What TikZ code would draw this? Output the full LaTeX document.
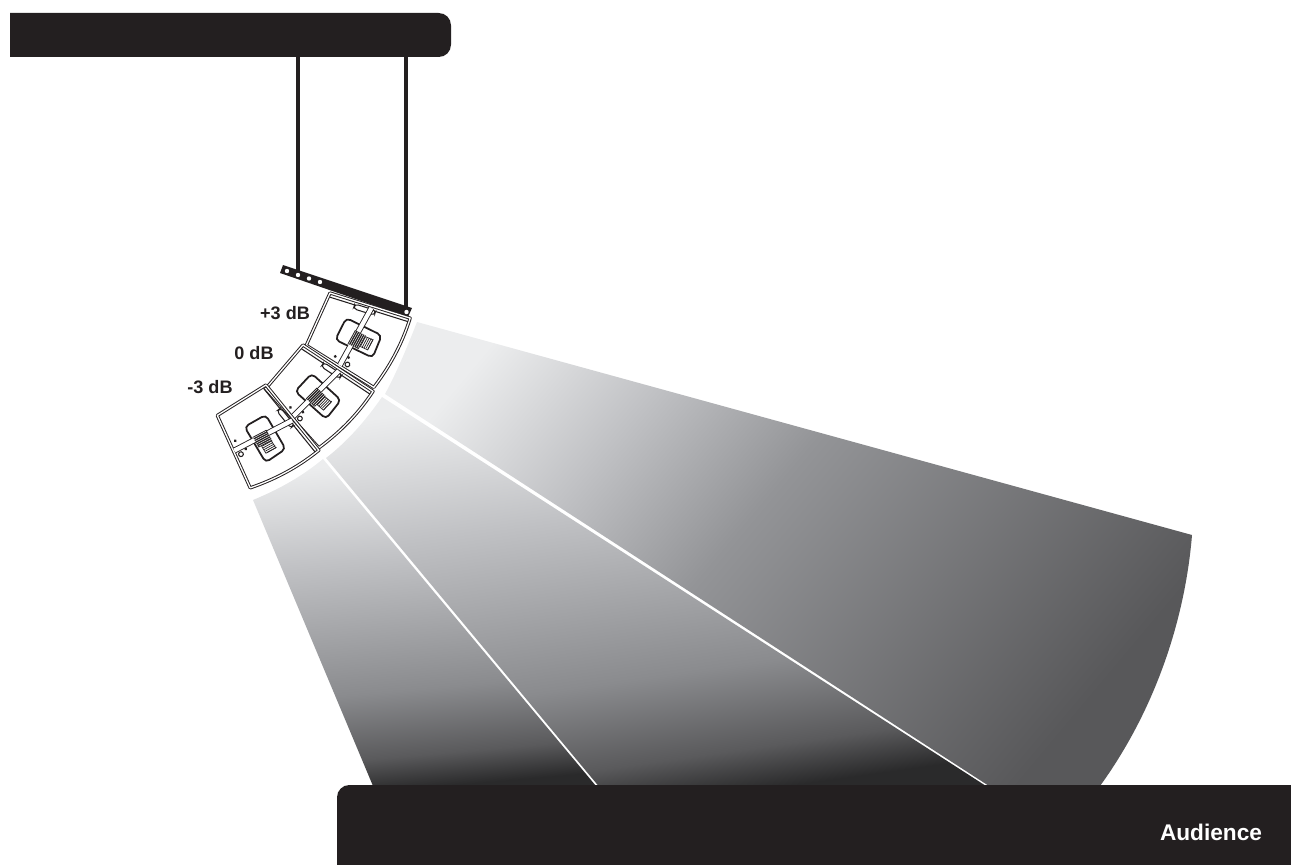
\documentclass[tikz,border=0pt]{standalone}
\usepackage{fontspec}
\setmainfont{Liberation Sans}
\definecolor{barblack}{HTML}{231F20}
\definecolor{fanA}{HTML}{ECEDEE}
\definecolor{fanB}{HTML}{C0C1C4}
\definecolor{fanC}{HTML}{939497}
\definecolor{fanD}{HTML}{58585A}
\definecolor{fanE}{HTML}{8A8B8E}
\definecolor{fanF}{HTML}{5A5A5C}
\definecolor{fanG}{HTML}{2A2A2B}
% gradients of the three fans, light at the array and dark at the audience
\pgfdeclareverticalshading{fanone}{100bp}{color(0bp)=(fanD);color(25bp)=(fanD);color(54bp)=(fanC);color(66bp)=(fanB);color(78bp)=(fanA);color(100bp)=(fanA)}
\pgfdeclareverticalshading{fantwo}{100bp}{color(0bp)=(fanG);color(25bp)=(fanG);color(30bp)=(fanF);color(40bp)=(fanE);color(60bp)=(fanB);color(75bp)=(fanA);color(100bp)=(fanA)}
\tikzset{
  labeltext/.style={font=\bfseries\fontsize{10.3}{12}\selectfont, text=barblack, inner sep=0pt},
  boxline/.style={draw=barblack, line width=0.55pt, double=white, double distance=0.75pt, line join=round},
  thinline/.style={draw=barblack, line width=0.6pt},
  rod/.style={draw=barblack, line width=1.8pt},
}
% one cabinet: x, y of its back corner, then its rotation
\newcommand{\spkbox}[3]{
  \begin{scope}[shift={(#1,#2)}, rotate=#3]
    \draw[boxline] (0,0) -- (84,0) .. controls (84,30) and (78,55) .. (70,77) -- (-7,57) -- cycle;
    \draw[thinline] (1,4) -- (83,4);
    % driver
    \draw[barblack, line width=1pt, rounded corners=2.5pt, fill=white] (23,19) -- (62,25) -- (60,49) -- (19,43) -- cycle;
    % handle
    \draw[thinline, fill=white, rounded corners=2pt] (27,3) rectangle (49,8);
    % shaft
    \draw[barblack, line width=3.4pt] (44,2) -- (31,66);
    \draw[white, line width=2.4pt] (44,2) -- (31,66);
    % hatching
    \fill[barblack] (35,28) -- (47,30) -- (44,45) -- (32,43) -- cycle;
    \foreach \i in {0,2,...,10}
      \draw[white, line width=0.25pt] (36+\i,29) -- (33+\i,44);
    \foreach \i in {0,2,...,8}
      \draw[barblack, line width=0.4pt] (47+\i,31) -- (45+\i,42);
    \draw[barblack, line width=0.4pt] (47,31) -- (55,32) -- (53,43) -- (45,42);
    \fill[barblack] (37,56) circle (1.6);
    \fill[barblack] (24,59) circle (1.6);
    \draw[thinline, fill=white] (38,63) circle (2.4);
  \end{scope}
}

\begin{document}
\begin{tikzpicture}[x=0.02cm, y=-0.02cm]
  \useasboundingbox (0,0) rectangle (1291,865);
  % fans
  \shade[shading=fanone, shading angle=50]
    (417,322) .. controls (408,345) and (397,372) .. (385,394)
    -- (989,786) -- (1100,786) .. controls (1155,710) and (1185,620) .. (1192,535) -- cycle;
  \shade[shading=fantwo, shading angle=8]
    (382,397) .. controls (366,420) and (348,441) .. (326,458)
    -- (598.5,786) -- (986,786) -- cycle;
  \shade[shading=fantwo, shading angle=5]
    (323,459) .. controls (300,478) and (277,490) .. (253,500)
    -- (373,786) -- (596,786) -- cycle;
  % top beam and audience block
  \fill[barblack] (10,13) [rounded corners=7pt] -- (451,13) -- (451,57) [sharp corners] -- (10,57) -- cycle;
  \fill[barblack] (337,870) [rounded corners=7pt] -- (337,785) [sharp corners] -- (1300,785) -- (1300,870) -- cycle;
  % suspension
  \coordinate (hangA) at (298,57);
  \coordinate (holeA) at (298,275);
  \coordinate (hangB) at (406,57);
  \coordinate (holeB) at (406,312);
  \draw[rod] (hangA) -- (holeA);
  \draw[rod] (hangB) -- (holeB);
  \fill[barblack] (283,265) -- (412,308) -- (408,317) -- (280,273) -- cycle;
  \foreach \hx/\hy in {287/271, 298/275, 309/278.5, 320/282, 406.5/312}
    \fill[white] (\hx,\hy) circle (2.2);
  % cabinets
  \spkbox{330}{293}{-17.4}
  \spkbox{303}{345}{-33.5}
  \spkbox{266}{385}{-51}
  % labels
  \node[labeltext] (plusthree) at (285,313) {+3 dB};
  \node[labeltext] (zerodb) at (254,353) {0 dB};
  \node[labeltext] (minusthree) at (210,387) {-3 dB};
  \node[labeltext, text=white, font=\bfseries\fontsize{12.9}{14}\selectfont] (audience) at (1211,832) {Audience};
\end{tikzpicture}
\end{document}
